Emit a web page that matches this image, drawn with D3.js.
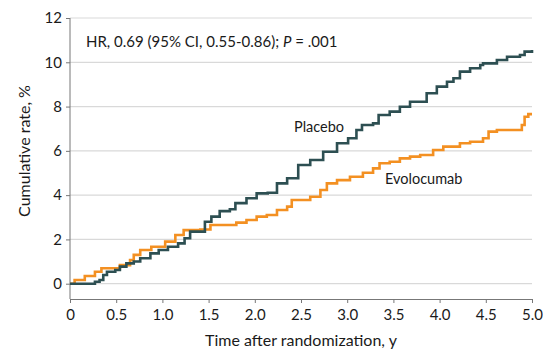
<!DOCTYPE html>
<html><head><meta charset="utf-8">
<script src="https://cdn.jsdelivr.net/npm/d3@7"></script>
<style>body{margin:0;background:#fff}svg{display:block}text{font-family:Lato,"Open Sans",sans-serif;fill:#1a1a1a}</style>
</head><body><svg id="c" width="543" height="352"></svg>
<script>
const xTicks = [0, 0.5, 1.0, 1.5, 2.0, 2.5, 3.0, 3.5, 4.0, 4.5, 5.0];
const xTickLabels = ["0","0.5","1.0","1.5","2.0","2.5","3.0","3.5","4.0","4.5","5.0"];
const yTicks = [0, 2, 4, 6, 8, 10, 12];
const placeboT = [0,0.27,0.32,0.36,0.40,0.49,0.54,0.61,0.69,0.76,0.87,0.96,1.06,1.17,1.24,1.30,1.46,1.53,1.62,1.73,1.79,1.91,2.02,2.14,2.24,2.35,2.47,2.60,2.74,2.89,3.01,3.10,3.16,3.28,3.34,3.46,3.57,3.68,3.75,3.86,3.97,4.08,4.15,4.22,4.33,4.44,4.47,4.62,4.73,4.87,4.92,5.0];
const placeboV = [0,0.09,0.17,0.39,0.54,0.62,0.77,0.92,1.0,1.15,1.37,1.52,1.67,1.82,2.05,2.35,2.8,3.03,3.28,3.36,3.64,3.86,4.08,4.11,4.53,4.76,5.36,5.59,5.96,6.34,6.57,6.94,7.17,7.24,7.62,7.77,7.99,8.22,8.22,8.6,8.9,9.12,9.28,9.58,9.73,9.88,9.95,10.1,10.25,10.33,10.48,10.55];
const evoT = [0,0.05,0.16,0.27,0.34,0.45,0.54,0.65,0.69,0.76,0.88,1.03,1.14,1.23,1.41,1.52,1.80,1.91,2.02,2.13,2.24,2.35,2.40,2.49,2.60,2.71,2.78,2.89,3.03,3.17,3.28,3.35,3.46,3.57,3.68,3.79,3.86,3.93,4.04,4.22,4.33,4.47,4.53,4.62,4.84,4.89,4.92,4.96,5.0];
const evoV = [0,0.17,0.35,0.54,0.7,0.7,0.84,1.07,1.3,1.52,1.67,1.9,2.2,2.42,2.45,2.65,2.76,2.88,3.03,3.1,3.33,3.48,3.78,3.78,3.93,4.23,4.53,4.68,4.83,5.01,5.21,5.44,5.51,5.66,5.74,5.81,5.81,6.04,6.19,6.34,6.41,6.57,6.87,6.94,6.94,7.17,7.54,7.66,7.66];

const svg = d3.select("#c");
const x = d3.scaleLinear().domain([0,5]).range([70,532]);
const y = d3.scaleLinear().domain([0,12]).range([283.7,18]);

// grid
svg.append("g").selectAll("line").data(yTicks).join("line")
  .attr("x1",70).attr("x2",532).attr("y1",d=>y(d)).attr("y2",d=>y(d))
  .attr("stroke","#d9d9d9").attr("stroke-width",1.2);

// y axis
const ya = svg.append("g").attr("transform","translate(70,0)")
  .call(d3.axisLeft(y).tickValues(yTicks).tickSize(4).tickPadding(4).tickFormat(d3.format("d")));
ya.select(".domain").attr("d","M0,18V299").attr("stroke","#777");
ya.selectAll(".tick line").attr("stroke","#777");
ya.selectAll("text").attr("font-size",15).attr("fill","#1a1a1a").style("font-family","Lato,sans-serif");

// x axis
const xa = svg.append("g").attr("transform","translate(0,299)")
  .call(d3.axisBottom(x).tickValues(xTicks).tickSize(4).tickPadding(6).tickFormat((d,i)=>xTickLabels[i]));
xa.select(".domain").attr("stroke","#777");
xa.selectAll(".tick line").attr("stroke","#777");
xa.selectAll("text").attr("font-size",15).attr("fill","#1a1a1a").style("font-family","Lato,sans-serif");

const line = d3.line().x(d=>x(d[0])).y(d=>y(d[1])).curve(d3.curveStepAfter);
svg.append("path").datum(evoT.map((t,i)=>[t,evoV[i]])).attr("d",line)
  .attr("fill","none").attr("stroke","#f39022").attr("stroke-width",2.6);
svg.append("path").datum(placeboT.map((t,i)=>[t,placeboV[i]])).attr("d",line)
  .attr("fill","none").attr("stroke","#2d4f52").attr("stroke-width",2.6);

// labels
svg.append("text").attr("x",294).attr("y",132).attr("font-size",14.5).text("Placebo");
svg.append("text").attr("x",385).attr("y",184).attr("font-size",14.5).text("Evolocumab");
const hr = svg.append("text").attr("x",86).attr("y",46.5).attr("font-size",15);
hr.append("tspan").text("HR, 0.69 (95% CI, 0.55-0.86); ");
hr.append("tspan").attr("font-style","italic").text("P");
hr.append("tspan").text(" = .001");

svg.append("text").attr("x",301).attr("y",346).attr("text-anchor","middle").attr("font-size",16).text("Time after randomization, y");
svg.append("text").attr("transform","translate(30,151) rotate(-90)").attr("text-anchor","middle").attr("font-size",16).text("Cumulative rate, %");
</script></body></html>
